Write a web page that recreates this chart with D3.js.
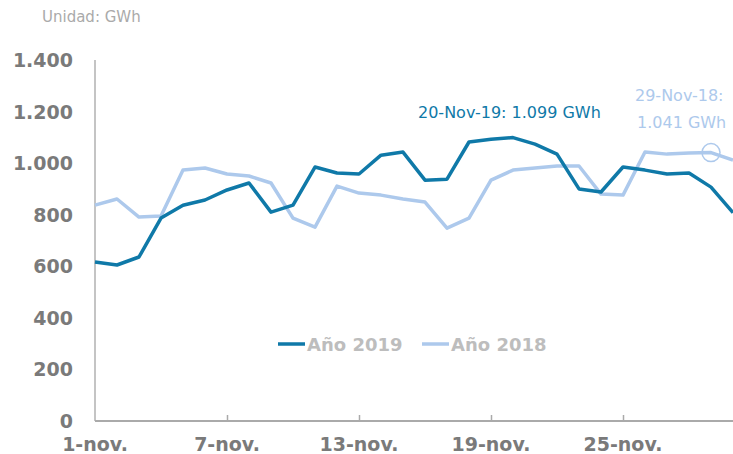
<!DOCTYPE html>
<html>
    <head>
        <meta charset="utf-8">
        <title>Demanda diaria nov.</title>
        <style>
            body { margin: 0; background: #fff; }
            text { font-family: "DejaVu Sans", Verdana, sans-serif; }
        </style>
    </head>
    <body>
        <div id="chart"></div>
        <script src="https://cdn.jsdelivr.net/npm/d3@7/dist/d3.min.js"></script>
        <script>
            var days = d3.range(1, 31);
            var xTickDays = [1, 7, 13, 19, 25];
            var yTicks = [0, 200, 400, 600, 800, 1000, 1200, 1400];

            var serie2019 = [617, 605, 636, 787, 837, 857, 896, 923, 810, 837,
                             985, 962, 958, 1031, 1043, 934, 938, 1082, 1093, 1099,
                             1074, 1035, 900, 888, 985, 973, 958, 962, 907, 808];
            var serie2018 = [837, 861, 791, 795, 973, 981, 958, 950, 923, 787,
                             752, 911, 884, 876, 861, 849, 748, 787, 934, 973,
                             981, 989, 989, 880, 876, 1043, 1035, 1039, 1041, 1012];

            var color2019 = "#0f79a8", color2018 = "#adc9ec";
            var w = 733, h = 454;

            var svg = d3.select("#chart").append("svg")
                .attr("width", w)
                .attr("height", h);

            var x = d3.scaleLinear().domain([1, 30]).range([95, 733]);
            var y = d3.scaleLinear().domain([0, 1400]).range([421, 60]);

            var fmt = function(v) { return d3.format(",")(v).replace(/,/g, "."); };

            svg.append("text")
                .attr("x", 42).attr("y", 22)
                .style("font-size", "15px")
                .style("fill", "#aaa")
                .text("Unidad: GWh");

            // y axis
            svg.append("line")
                .attr("x1", 95).attr("x2", 95)
                .attr("y1", y(1400)).attr("y2", y(0))
                .style("stroke", "#c4c4c4").style("stroke-width", 2);

            svg.selectAll(".ylab")
                .data(yTicks)
                .enter().append("text")
                    .attr("class", "ylab")
                    .attr("x", 73)
                    .attr("y", function(d) { return y(d) + 7; })
                    .attr("text-anchor", "end")
                    .style("font-size", "19px")
                    .style("font-weight", "bold")
                    .style("fill", "#7a7a7a")
                    .text(fmt);

            // x axis
            var xAxis = d3.axisBottom(x)
                .tickValues(xTickDays.slice(1))
                .tickSize(-6)
                .tickFormat("");
            var gx = svg.append("g")
                .attr("transform", "translate(0," + y(0) + ")")
                .call(xAxis);
            gx.select(".domain").attr("d", "M95,0H733").style("stroke", "#aaa").style("stroke-width", 2);
            gx.selectAll(".tick line").style("stroke", "#aaa").style("stroke-width", 1.5);

            svg.selectAll(".xlab")
                .data(xTickDays)
                .enter().append("text")
                    .attr("class", "xlab")
                    .attr("x", function(d) { return x(d); })
                    .attr("y", 451)
                    .attr("text-anchor", "middle")
                    .style("font-size", "19px")
                    .style("font-weight", "bold")
                    .style("fill", "#7a7a7a")
                    .text(function(d) { return d + "-nov."; });

            var line = d3.line()
                .x(function(d, i) { return x(days[i]); })
                .y(function(d) { return y(d); });

            svg.append("path")
                .datum(serie2018)
                .attr("d", line)
                .style("fill", "none")
                .style("stroke", color2018)
                .style("stroke-width", 3.5)
                .style("stroke-linejoin", "round");

            svg.append("path")
                .datum(serie2019)
                .attr("d", line)
                .style("fill", "none")
                .style("stroke", color2019)
                .style("stroke-width", 3.5)
                .style("stroke-linejoin", "round");

            // annotations
            svg.append("circle")
                .attr("cx", x(29)).attr("cy", y(serie2018[28]))
                .attr("r", 9)
                .style("fill", "none")
                .style("stroke", color2018)
                .style("stroke-width", 1.5);

            svg.append("text")
                .attr("x", 418).attr("y", 118)
                .style("font-size", "16px")
                .style("fill", color2019)
                .text("20-Nov-19: " + fmt(serie2019[19]) + " GWh");

            svg.append("text")
                .attr("x", 635).attr("y", 101)
                .style("font-size", "16px")
                .style("fill", color2018)
                .text("29-Nov-18:");
            svg.append("text")
                .attr("x", 637).attr("y", 128)
                .style("font-size", "16px")
                .style("fill", color2018)
                .text(fmt(serie2018[28]) + " GWh");

            // legend
            var legend = [
                { label: "Año 2019", color: color2019, x: 278 },
                { label: "Año 2018", color: color2018, x: 422 }
            ];
            var lg = svg.selectAll(".legend")
                .data(legend)
                .enter().append("g")
                    .attr("class", "legend")
                    .attr("transform", function(d) { return "translate(" + d.x + ",344)"; });
            lg.append("line")
                .attr("x1", 0).attr("x2", 27)
                .style("stroke", function(d) { return d.color; })
                .style("stroke-width", 3.5);
            lg.append("text")
                .attr("x", 29).attr("y", 7)
                .style("font-size", "18px")
                .style("font-weight", "bold")
                .style("fill", "#bdbdbd")
                .text(function(d) { return d.label; });
        </script>
    </body>
</html>
